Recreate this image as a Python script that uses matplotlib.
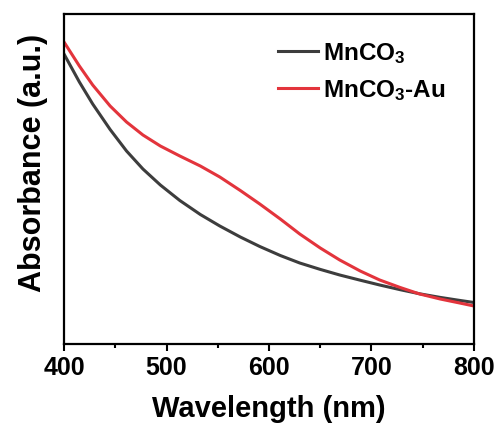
import matplotlib
matplotlib.use('Agg')
import matplotlib.pyplot as plt
from matplotlib.ticker import MultipleLocator

# wavelength (nm) and absorbance (arbitrary units)
wavelength = [400, 415, 428, 445, 461, 477, 494, 513, 533, 552, 572, 591,
              611, 630, 650, 669, 689, 708, 728, 747, 767, 786, 800]
mnco3 = [290, 262, 240, 214.5, 193, 175, 159, 143.5, 129.5, 118, 107, 97.5,
         88.5, 81, 74.6, 69, 63.8, 59, 54.3, 50.2, 46.6, 43.6, 41.5]
mnco3_au = [302, 278, 259, 238, 222, 209, 198, 188, 178, 167, 153.5, 140,
            125, 110, 96, 84, 73, 64, 56.5, 50, 45, 41, 38]

plt.rcParams['font.family'] = ['Liberation Sans', 'DejaVu Sans']
plt.rcParams['font.weight'] = 'bold'
plt.rcParams['mathtext.fontset'] = 'custom'
plt.rcParams['mathtext.rm'] = 'Liberation Sans:bold'
plt.rcParams['mathtext.it'] = 'Liberation Sans:bold'
plt.rcParams['mathtext.bf'] = 'Liberation Sans:bold'

fig = plt.figure(figsize=(4.97, 4.27), dpi=100)
ax = fig.add_axes([64 / 497, 82 / 427, 410 / 497, 330 / 427])

ax.plot(wavelength, mnco3, color='#3d3d3d', lw=2.2, label=r'MnCO$_3$')
ax.plot(wavelength, mnco3_au, color='#e3343c', lw=2.2, label=r'MnCO$_3$-Au')

ax.set_xlim(400, 800)
ax.set_ylim(0, 330)
ax.xaxis.set_major_locator(MultipleLocator(100))
ax.xaxis.set_minor_locator(MultipleLocator(50))
ax.tick_params(axis='x', which='major', direction='out', length=5, width=1.5, labelsize=18, pad=3)
ax.tick_params(axis='x', which='minor', direction='out', length=3, width=1.5)
ax.set_yticks([])
for s in ax.spines.values():
    s.set_linewidth(1.6)

ax.set_xlabel('Wavelength (nm)', fontsize=21, fontweight='bold', labelpad=11)
ax.set_ylabel('Absorbance (a.u.)', fontsize=22, fontweight='bold')
ax.yaxis.set_label_coords(-0.038, 0.552)

ax.legend(loc='upper right', bbox_to_anchor=(0.93, 0.92), frameon=False, fontsize=17.5,
          handlelength=1.65, handletextpad=0.2, labelspacing=0.5, borderpad=0, borderaxespad=0)

plt.savefig('out.png', dpi=100)
plt.close(fig)
